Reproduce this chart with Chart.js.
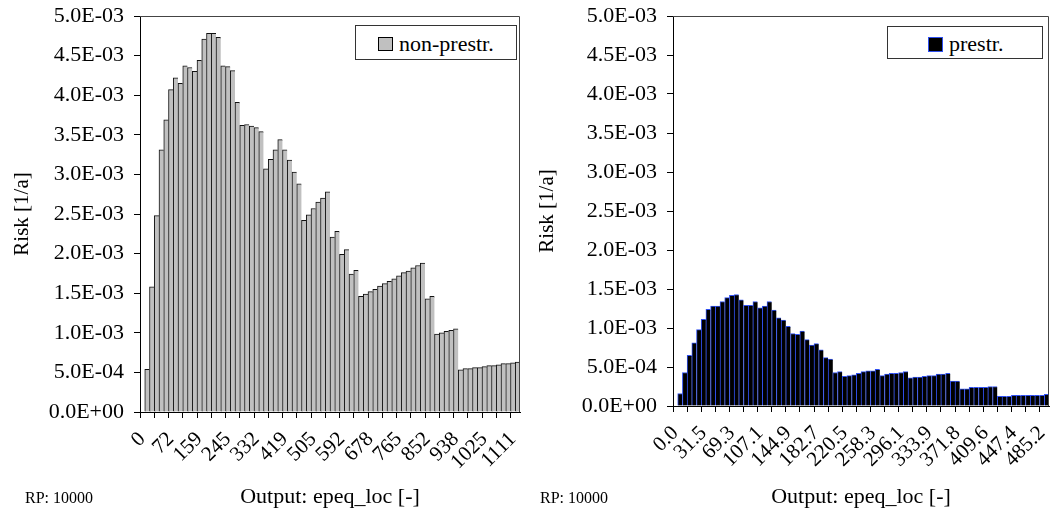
<!DOCTYPE html>
<html>
<head>
<meta charset="utf-8">
<script src="https://cdn.jsdelivr.net/npm/chart.js@4.4.1/dist/chart.umd.min.js"></script>
<style>
  body { margin: 0; background: #fff; width: 1050px; height: 510px; position: relative; overflow: hidden; font-family: "Liberation Serif", Tinos, "DejaVu Serif", serif; }
  canvas { position: absolute; top: 0; }
  .legend { position: absolute; border: 1px solid #333; background: #fff; box-sizing: border-box; font-size: 22px; color: #000; font-family: "Liberation Serif", Tinos, "DejaVu Serif", serif; }
  .legend span.sw { position: absolute; box-sizing: border-box; }
  .legend span.tx { position: absolute; white-space: nowrap; line-height: 1; }
  .rp { position: absolute; font-size: 16px; top: 489px; }
</style>
</head>
<body>
<canvas id="leftChart" width="525" height="510" style="left:0"></canvas>
<canvas id="rightChart" width="525" height="510" style="left:525px"></canvas>

<div class="legend" style="left:355px;top:25px;width:162px;height:35px">
  <span class="sw" style="left:22px;top:11px;width:15px;height:14px;background:#c0c0c0;border:1px solid #000"></span>
  <span class="tx" style="left:43px;top:7px">non-prestr.</span>
</div>
<div class="legend" style="left:887px;top:26px;width:156px;height:33px">
  <span class="sw" style="left:40px;top:10px;width:15px;height:15px;background:#000;border:1px solid #3050f0"></span>
  <span class="tx" style="left:61px;top:6px">prestr.</span>
</div>
<div class="rp" style="left:25px">RP: 10000</div>
<div class="rp" style="left:540px">RP: 10000</div>

<script>
// tick labels shown on every 6th category
var tickLabelsLeft = ['0', '72', '159', '245', '332', '419', '505', '592', '678', '765', '852', '938', '1025', '1111'];
var tickLabelsRight = ['0.0', '31.5', '69.3', '107.1', '144.9', '182.7', '220.5', '258.3', '296.1', '333.9', '371.8', '409.6', '447.4', '485.2'];
var labelEvery = 6;

var riskNonPrestr = [
    0, 0.54e-3, 1.58e-3, 2.48e-3, 3.31e-3, 3.69e-3, 4.07e-3, 4.22e-3, 4.15e-3, 4.37e-3,
    4.35e-3, 4.30e-3, 4.44e-3, 4.71e-3, 4.78e-3, 4.78e-3, 4.73e-3, 4.37e-3, 4.36e-3, 4.31e-3,
    3.91e-3, 3.62e-3, 3.63e-3, 3.61e-3, 3.59e-3, 3.54e-3, 3.07e-3, 3.19e-3, 3.31e-3, 3.44e-3,
    3.31e-3, 3.18e-3, 3.03e-3, 2.88e-3, 2.42e-3, 2.49e-3, 2.57e-3, 2.65e-3, 2.70e-3, 2.78e-3,
    2.21e-3, 2.28e-3, 1.99e-3, 2.05e-3, 1.74e-3, 1.79e-3, 1.46e-3, 1.49e-3, 1.52e-3, 1.55e-3,
    1.59e-3, 1.62e-3, 1.65e-3, 1.68e-3, 1.72e-3, 1.76e-3, 1.78e-3, 1.82e-3, 1.85e-3, 1.88e-3,
    1.43e-3, 1.46e-3, 0.985e-3, 1.00e-3, 1.02e-3, 1.03e-3, 1.05e-3, 0.534e-3, 0.547e-3, 0.547e-3,
    0.56e-3, 0.56e-3, 0.572e-3, 0.585e-3, 0.585e-3, 0.597e-3, 0.61e-3, 0.61e-3, 0.62e-3, 0.63e-3
];

var riskPrestr = [
    0, 0.16e-3, 0.43e-3, 0.65e-3, 0.81e-3, 0.98e-3, 1.11e-3, 1.24e-3, 1.28e-3, 1.28e-3,
    1.34e-3, 1.39e-3, 1.42e-3, 1.43e-3, 1.36e-3, 1.29e-3, 1.29e-3, 1.34e-3, 1.26e-3, 1.28e-3,
    1.34e-3, 1.23e-3, 1.13e-3, 1.10e-3, 1.02e-3, 0.93e-3, 0.92e-3, 0.96e-3, 0.85e-3, 0.78e-3,
    0.80e-3, 0.72e-3, 0.62e-3, 0.60e-3, 0.43e-3, 0.44e-3, 0.38e-3, 0.39e-3, 0.40e-3, 0.42e-3,
    0.44e-3, 0.45e-3, 0.45e-3, 0.47e-3, 0.39e-3, 0.41e-3, 0.42e-3, 0.42e-3, 0.43e-3, 0.44e-3,
    0.36e-3, 0.37e-3, 0.37e-3, 0.38e-3, 0.39e-3, 0.39e-3, 0.41e-3, 0.41e-3, 0.42e-3, 0.32e-3,
    0.32e-3, 0.22e-3, 0.22e-3, 0.24e-3, 0.24e-3, 0.24e-3, 0.24e-3, 0.25e-3, 0.25e-3, 0.124e-3,
    0.124e-3, 0.124e-3, 0.137e-3, 0.137e-3, 0.137e-3, 0.137e-3, 0.137e-3, 0.137e-3, 0.137e-3, 0.15e-3
];

var serif = '"Liberation Serif", Tinos, "DejaVu Serif", serif';

function buildCategories(count, tickLabels) {
    var cats = [];
    for (var i = 0; i < count; i++) {
        cats.push(i % labelEvery === 0 ? (tickLabels[i / labelEvery] || '') : '');
    }
    return cats;
}

function sciLabel(v) {
    var parts = Number(v).toExponential(1).split('e');
    var exp = parseInt(parts[1], 10);
    var sign = exp < 0 ? '-' : '+';
    var digits = String(Math.abs(exp));
    if (digits.length < 2) digits = '0' + digits;
    return parts[0] + 'E' + sign + digits;
}

var boxPlugin = {
    id: 'box',
    afterDraw: function (chart) {
        var a = chart.chartArea, c = chart.ctx;
        c.save();
        c.strokeStyle = '#444';
        c.lineWidth = 1;
        c.beginPath();
        c.moveTo(a.left, a.top + 0.5);
        c.lineTo(a.right - 0.5, a.top + 0.5);
        c.lineTo(a.right - 0.5, a.bottom);
        c.stroke();
        c.restore();
    }
};

function renderChart(ctx, data, tickLabels, fill, border, axisLeft, axisBottom, padRight) {
    var tickColor = function (c) { return c.index % 3 === 0 ? '#000' : 'rgba(0,0,0,0)'; };
    new Chart(ctx, {
        type: 'bar',
        data: {
            labels: buildCategories(data.length, tickLabels),
            datasets: [{
                data: data,
                backgroundColor: fill,
                borderColor: border,
                borderWidth: { top: 1, left: 1, right: 0, bottom: 0 },
                borderSkipped: false,
                barPercentage: 1,
                categoryPercentage: 1
            }]
        },
        options: {
            responsive: false,
            animation: false,
            devicePixelRatio: 1,
            layout: { padding: { top: 16, right: padRight, left: 0, bottom: 0 } },
            plugins: { legend: { display: false }, tooltip: { enabled: false } },
            scales: {
                x: {
                    afterFit: function (s) {
                        s.height = 510 - axisBottom;
                        s.paddingLeft = 0;
                        s.paddingRight = 0;
                    },
                    grid: { drawOnChartArea: false, color: tickColor, tickColor: tickColor, tickLength: 6 },
                    border: { color: '#000', width: 1 },
                    ticks: {
                        autoSkip: false, minRotation: 45, maxRotation: 45, padding: 9,
                        color: '#000', font: { family: serif, size: 21 }
                    },
                    title: {
                        display: true, text: 'Output: epeq_loc [-]', color: '#000',
                        font: { family: serif, size: 22 }, padding: { top: 0, bottom: 0 }
                    }
                },
                y: {
                    min: 0, max: 0.005,
                    afterFit: function (s) {
                        s.width = axisLeft;
                        s.paddingTop = 0;
                        s.paddingBottom = 0;
                    },
                    grid: { drawOnChartArea: false, color: '#000', tickLength: 6 },
                    border: { color: '#000', width: 1 },
                    ticks: {
                        stepSize: 0.0005, padding: 10, color: '#000',
                        font: { family: serif, size: 22 },
                        callback: function (v) { return sciLabel(v); }
                    },
                    title: {
                        display: true, text: 'Risk [1/a]', color: '#000',
                        font: { family: serif, size: 21 }, padding: { top: 10, bottom: 0 }
                    }
                }
            }
        },
        plugins: [boxPlugin]
    });
}

renderChart(document.getElementById('leftChart').getContext('2d'), riskNonPrestr, tickLabelsLeft, '#c0c0c0', '#111', 140, 412, 5);
renderChart(document.getElementById('rightChart').getContext('2d'), riskPrestr, tickLabelsRight, '#000', '#3050f0', 148, 406, 1);
</script>
</body>
</html>
